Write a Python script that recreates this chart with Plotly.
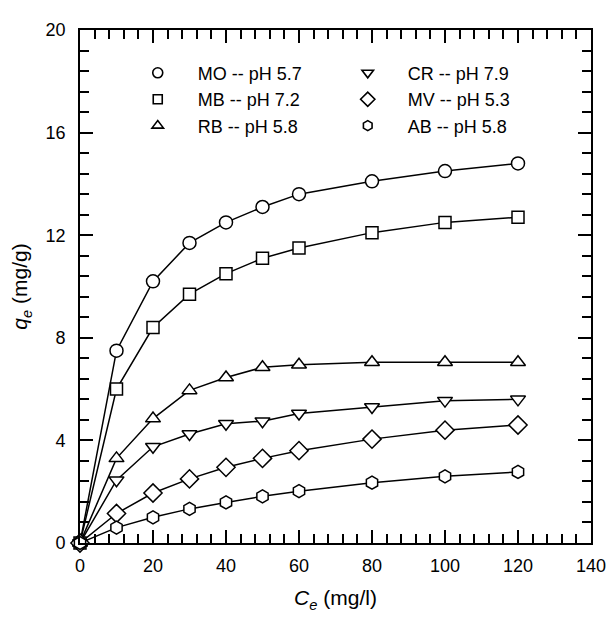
import plotly.graph_objects as go

# ---- data ----
ce = [0, 10, 20, 30, 40, 50, 60, 80, 100, 120]
q_MO = [0, 7.5, 10.2, 11.7, 12.5, 13.1, 13.6, 14.1, 14.5, 14.8]
q_MB = [0, 6.0, 8.4, 9.7, 10.5, 11.1, 11.5, 12.1, 12.5, 12.7]
q_RB = [0, 3.3, 4.85, 5.95, 6.45, 6.85, 6.95, 7.05, 7.05, 7.05]
q_CR = [0, 2.45, 3.75, 4.25, 4.65, 4.75, 5.05, 5.3, 5.55, 5.6]
q_MV = [0, 1.15, 1.95, 2.5, 2.95, 3.3, 3.6, 4.05, 4.4, 4.6]
q_AB = [0, 0.6, 1.0, 1.33, 1.58, 1.82, 2.02, 2.35, 2.6, 2.77]

series_names = ["MO -- pH 5.7", "MB -- pH 7.2", "RB -- pH 5.8",
                "CR -- pH 7.9", "MV -- pH 5.3", "AB -- pH 5.8"]
series_vals = [q_MO, q_MB, q_RB, q_CR, q_MV, q_AB]
symbols = ["circle", "square", "triangle-up",
           "triangle-down", "diamond", "hexagon"]
sizes = [13, 12, 13, 13, 14, 13]
legend_sizes = [10, 9, 10, 10, 11, 10]
# legend order: row-wise in a 2-column horizontal legend
legend_rank = [1, 3, 5, 2, 4, 6]

FONT = "Liberation Sans, Arial, Helvetica, sans-serif"

fig = go.Figure()

for name, vals, sym, sz in zip(series_names, series_vals, symbols, sizes):
    fig.add_trace(go.Scatter(
        x=ce, y=vals, mode="lines", showlegend=False,
        line=dict(color="black", width=1.5),
        cliponaxis=False, hoverinfo="skip",
    ))
for name, vals, sym, sz in zip(series_names, series_vals, symbols, sizes):
    fig.add_trace(go.Scatter(
        x=ce, y=vals, mode="markers", showlegend=False, name=name,
        marker=dict(symbol=sym, size=sz, color="white",
                    line=dict(color="black", width=1.5)),
        cliponaxis=False,
    ))

PAD = "\u00a0" * 4
for name, sym, rk, lsz in zip(series_names, symbols, legend_rank, legend_sizes):
    fig.add_trace(go.Scatter(
        x=[None], y=[None], mode="markers", name=PAD + name, legendrank=rk,
        marker=dict(symbol=sym, size=lsz, color="white",
                    line=dict(color="black", width=1.6)),
    ))

axis_common = dict(
    showline=True, linecolor="black", linewidth=1.8, mirror="allticks",
    ticks="inside", ticklen=13, tickwidth=1.5, tickcolor="black",
    showgrid=False, zeroline=False, automargin=False,
    tickfont=dict(family=FONT, size=18, color="black"),
)

fig.update_xaxes(
    range=[0, 140], tickvals=[0, 20, 40, 60, 80, 100, 120, 140],
    minor=dict(dtick=4, ticks="inside", ticklen=9, tickwidth=1.5, tickcolor="black"),
    title=dict(text="<i>C</i><sub><i>e</i></sub> (mg/l)",
               font=dict(family=FONT, size=21, color="black"), standoff=16),
    ticklabelstandoff=5,
    **axis_common,
)
fig.update_yaxes(
    range=[0, 20], tickvals=[0, 4, 8, 12, 16, 20],
    minor=dict(dtick=0.8, ticks="inside", ticklen=9, tickwidth=1.5, tickcolor="black"),
    title=dict(text="<i>q</i><sub><i>e</i></sub> (mg/g)",
               font=dict(family=FONT, size=21, color="black"), standoff=12),
    ticklabelstandoff=9,
    **axis_common,
)

fig.update_layout(
    width=609, height=619,
    margin=dict(l=80, r=18, t=30, b=76),
    paper_bgcolor="white", plot_bgcolor="white",
    font=dict(family=FONT, size=18, color="black"),
    legend=dict(
        orientation="h", x=0.113, y=0.952, xanchor="left", yanchor="top",
        entrywidth=165, entrywidthmode="pixels",
        bgcolor="rgba(0,0,0,0)", borderwidth=0,
        font=dict(family=FONT, size=18, color="black"),
        itemclick=False, itemdoubleclick=False,
    ),
)

fig.write_html("out.html")
